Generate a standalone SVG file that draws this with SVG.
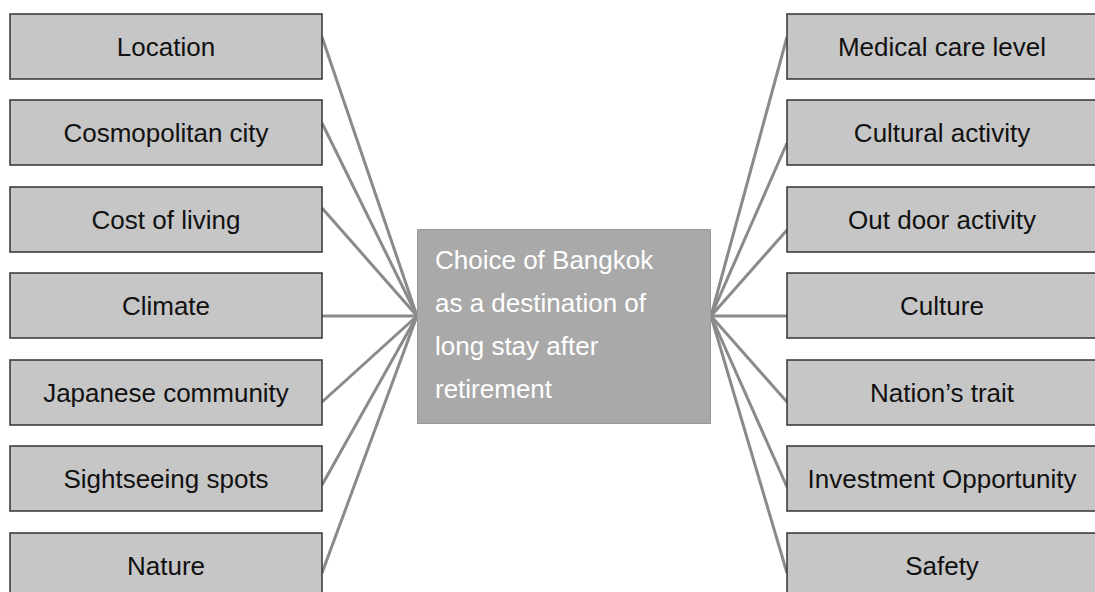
<svg xmlns="http://www.w3.org/2000/svg" width="1095" height="592" viewBox="0 0 1095 592">
<style>
.box{fill:#c6c6c6;stroke:#333;stroke-width:1.5}
.lbl{font-family:"Liberation Sans",Arial,sans-serif;font-size:26px;fill:#111;text-anchor:middle}
.center{fill:#a9a9a9;stroke:#999;stroke-width:1}
.ctext{font-family:"Liberation Sans",Arial,sans-serif;font-size:26px;fill:#fff}
.conn line{stroke:#8a8a8a;stroke-width:3}
</style>
<rect width="1095" height="592" fill="#fff"/>
<g class="conn" id="connectors">
<line x1="322" y1="37" x2="417" y2="316"/>
<line x1="322" y1="123" x2="417" y2="316"/>
<line x1="322" y1="208" x2="417" y2="316"/>
<line x1="322" y1="316" x2="417" y2="316"/>
<line x1="322" y1="402" x2="417" y2="316"/>
<line x1="322" y1="485" x2="417" y2="316"/>
<line x1="322" y1="573" x2="417" y2="316"/>
<line x1="787" y1="37" x2="711" y2="316"/>
<line x1="787" y1="143" x2="711" y2="316"/>
<line x1="787" y1="230" x2="711" y2="316"/>
<line x1="787" y1="316" x2="711" y2="316"/>
<line x1="787" y1="402" x2="711" y2="316"/>
<line x1="787" y1="487" x2="711" y2="316"/>
<line x1="787" y1="573" x2="711" y2="316"/>
</g>
<g id="center">
<rect class="center" x="417.5" y="229.5" width="293" height="194"/>
<text class="ctext" x="435" y="269">Choice of Bangkok</text>
<text class="ctext" x="435" y="312">as a destination of</text>
<text class="ctext" x="435" y="355">long stay after</text>
<text class="ctext" x="435" y="398">retirement</text>
</g>
<g id="location"><rect class="box" x="10" y="14" width="312" height="65"/><text class="lbl" x="166" y="56">Location</text></g>
<g id="cosmopolitan"><rect class="box" x="10" y="100" width="312" height="65"/><text class="lbl" x="166" y="142">Cosmopolitan city</text></g>
<g id="cost"><rect class="box" x="10" y="187" width="312" height="65"/><text class="lbl" x="166" y="229">Cost of living</text></g>
<g id="climate"><rect class="box" x="10" y="273" width="312" height="65"/><text class="lbl" x="166" y="315">Climate</text></g>
<g id="japanese"><rect class="box" x="10" y="360" width="312" height="65"/><text class="lbl" x="166" y="402">Japanese community</text></g>
<g id="sightseeing"><rect class="box" x="10" y="446" width="312" height="65"/><text class="lbl" x="166" y="488">Sightseeing spots</text></g>
<g id="nature"><rect class="box" x="10" y="533" width="312" height="65"/><text class="lbl" x="166" y="575">Nature</text></g>
<g id="medical"><rect class="box" x="787" y="14" width="312" height="65"/><text class="lbl" x="942" y="56">Medical care level</text></g>
<g id="cultural-activity"><rect class="box" x="787" y="100" width="312" height="65"/><text class="lbl" x="942" y="142">Cultural activity</text></g>
<g id="outdoor"><rect class="box" x="787" y="187" width="312" height="65"/><text class="lbl" x="942" y="229">Out door activity</text></g>
<g id="culture"><rect class="box" x="787" y="273" width="312" height="65"/><text class="lbl" x="942" y="315">Culture</text></g>
<g id="nation"><rect class="box" x="787" y="360" width="312" height="65"/><text class="lbl" x="942" y="402">Nation’s trait</text></g>
<g id="investment"><rect class="box" x="787" y="446" width="312" height="65"/><text class="lbl" x="942" y="488">Investment Opportunity</text></g>
<g id="safety"><rect class="box" x="787" y="533" width="312" height="65"/><text class="lbl" x="942" y="575">Safety</text></g>
</svg>
